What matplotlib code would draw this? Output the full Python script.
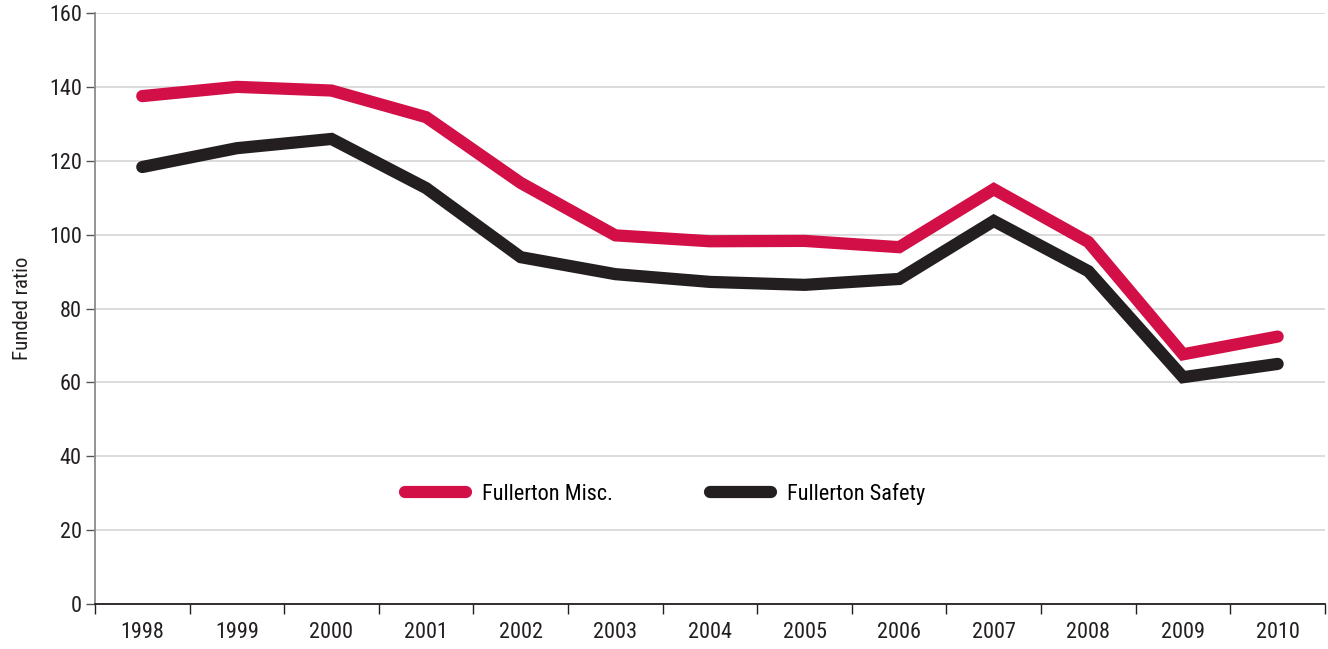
import matplotlib
matplotlib.use("Agg")
import matplotlib.pyplot as plt
from matplotlib import font_manager
import numpy as np

years = ["1998", "1999", "2000", "2001", "2002", "2003", "2004",
         "2005", "2006", "2007", "2008", "2009", "2010"]
misc = [137.5, 140.0, 139.0, 131.8, 114.0, 99.8, 98.2, 98.3, 96.6, 112.3, 98.0, 67.6, 72.4]
safety = [118.3, 123.4, 125.9, 112.6, 93.9, 89.3, 87.2, 86.4, 88.0, 103.7, 90.1, 61.4, 65.0]
yticks = [0, 20, 40, 60, 80, 100, 120, 140, 160]

RED = "#d20f46"
DARK = "#231f20"

names = {f.name for f in font_manager.fontManager.ttflist}
family = [f for f in ["Liberation Sans Narrow", "Roboto Condensed", "Open Sans", "DejaVu Sans"] if f in names]
plt.rcParams["font.family"] = family

fig = plt.figure(figsize=(13.28, 6.49), dpi=100)
ax = fig.add_axes([0.0715, 0.0693, 0.9262, 0.9107])

x = np.arange(len(years))
ax.plot(x, misc, color=RED, lw=8.8, solid_capstyle="round", solid_joinstyle="miter",
        label="Fullerton Misc.", zorder=3)
ax.plot(x, safety, color=DARK, lw=8.8, solid_capstyle="round", solid_joinstyle="miter",
        label="Fullerton Safety", zorder=3)

ax.set_xlim(-0.5, len(years) - 0.5)
ax.set_ylim(0, 160)
ax.set_yticks(yticks)
ax.tick_params(axis="y", labelsize=16, length=6.5, width=1, color="#555555", pad=3, labelcolor="#231f20")
ax.set_xticks(x)
ax.set_xticklabels(years)
ax.set_xticks(np.arange(-0.5, len(years)), minor=True)
ax.tick_params(axis="x", which="major", length=0, labelsize=16, pad=13, labelcolor="#231f20")
ax.tick_params(axis="x", which="minor", length=7, width=1, color="#231f20")

ax.grid(axis="y", color="#d9d9d9", lw=1.3, zorder=0)
ax.set_axisbelow(True)
for s in ["top", "right"]:
    ax.spines[s].set_visible(False)
ax.spines["left"].set_color("#8a8a8a")
ax.spines["left"].set_linewidth(1.3)
ax.spines["bottom"].set_color("#231f20")
ax.spines["bottom"].set_linewidth(1.3)

ax.set_ylabel("Funded ratio", fontsize=15, color="#231f20", labelpad=12)

ax.legend(loc="center", bbox_to_anchor=(0.4635, 0.186), ncol=2, frameon=False,
          fontsize=16, handlelength=2.75, handletextpad=0.7, columnspacing=4.4)

fig.savefig("out.png", dpi=100)
